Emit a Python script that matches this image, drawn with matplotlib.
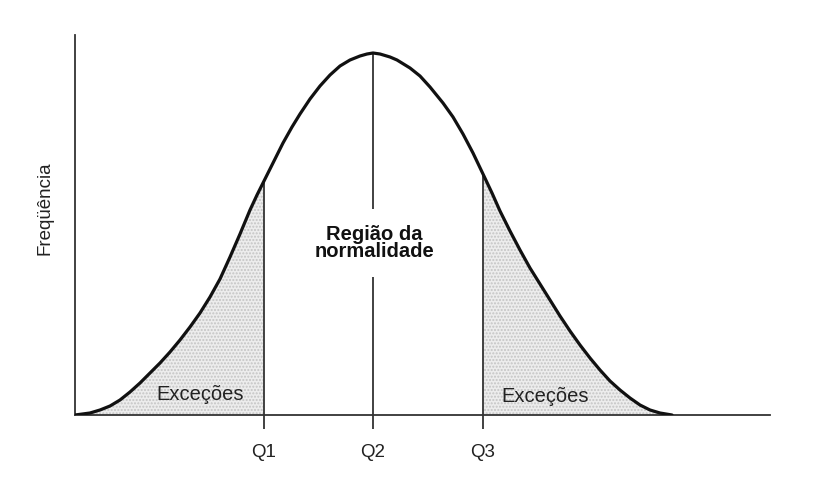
import matplotlib
matplotlib.use("Agg")
import matplotlib.pyplot as plt
import numpy as np

plt.rcParams['font.family'] = ['Liberation Sans', 'DejaVu Sans']

# curve (x position, height above the baseline)
curve_x = [75, 90, 100, 110, 120, 130, 140, 150, 160, 170, 180, 190, 200, 210,
           220, 230, 240, 250, 257, 264, 272, 283, 292, 300, 310, 320, 330,
           340, 350, 360, 367, 373, 380, 390, 397, 410, 420, 430, 443, 453,
           463, 473, 483, 492, 500, 510, 520, 530, 540, 550, 560, 570, 580,
           590, 600, 610, 620, 630, 640, 650, 660, 672]
curve_y = [0, 2, 5, 9, 15, 23, 32, 42, 52, 63, 75, 88, 102, 118,
           136, 158, 181, 205, 220, 234, 250, 272, 288, 301, 316, 329, 340,
           349, 355, 359, 361, 362, 361, 358, 355, 347, 339, 328, 312, 298,
           281, 262, 241, 222, 204, 184, 165, 147, 131, 115, 99, 84, 70,
           57, 45, 34, 25, 17, 10, 5, 2, 0]

quartiles = [264, 373, 483]
quartile_labels = ["Q1", "Q2", "Q3"]

curve_x = np.array(curve_x)
curve_y = np.array(curve_y)

fig = plt.figure(figsize=(8.18, 4.83), dpi=100)
ax = fig.add_axes([75 / 818, (483 - 415) / 483, (770 - 75) / 818, (415 - 35) / 483])
ax.set_xlim(75, 770)
ax.set_ylim(0, 380)

# shaded tails
left = curve_x <= quartiles[0]
right = curve_x >= quartiles[2]
for mask in (left, right):
    ax.fill_between(curve_x[mask], 0, curve_y[mask], facecolor='#ededed',
                    hatch='.....', edgecolor='#c4c4c4', linewidth=0, zorder=1)

ax.plot(curve_x, curve_y, color='#111111', linewidth=2.3, zorder=4,
        solid_capstyle='round', solid_joinstyle='round')

# vertical lines at the quartiles
for q in quartiles:
    h = np.interp(q, curve_x, curve_y)
    ax.plot([q, q], [0, h], color='#333333', linewidth=1.3, zorder=2)

ax.text(374, 172, "Região da\nnormalidade", ha='center', va='center',
        fontsize=14.5, fontweight='bold', color='#111111', linespacing=0.92,
        zorder=3, bbox=dict(facecolor='white', edgecolor='none', pad=11))

ax.text(200, 20, "Exceções", ha='center', va='center', fontsize=14.5, color='#222222', zorder=3)
ax.text(545, 19, "Exceções", ha='center', va='center', fontsize=14.5, color='#222222', zorder=3)

ax.set_xticks(quartiles)
ax.set_xticklabels(quartile_labels, fontsize=13.5, color='#222222')
ax.set_yticks([])
ax.tick_params(axis='x', direction='out', length=10, width=1.3, color='#333333', pad=11)

for side in ('top', 'right'):
    ax.spines[side].set_visible(False)
for side in ('left', 'bottom'):
    ax.spines[side].set_color('#333333')
    ax.spines[side].set_linewidth(1.3)

fig.text(45 / 818, 1 - 208 / 483, "Freqüência", rotation=90, ha='center', va='center',
         fontsize=13.5, color='#222222')

fig.savefig("out.png", dpi=100)
